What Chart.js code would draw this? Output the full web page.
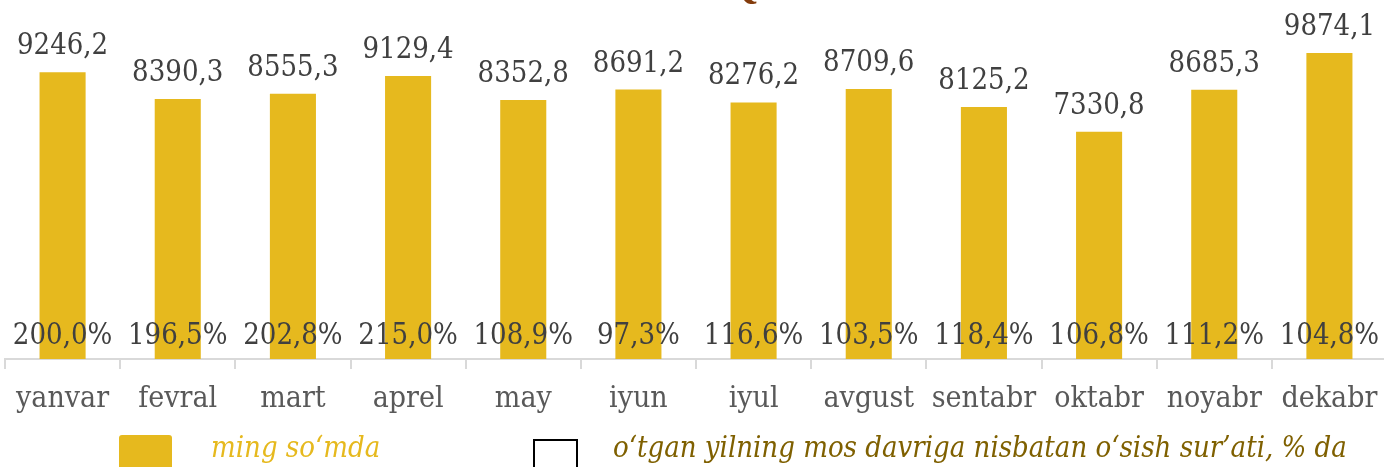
<!DOCTYPE html>
<html>
<head>
<meta charset="utf-8">
<script src="https://cdn.jsdelivr.net/npm/chart.js"></script>
<style>
  html, body { margin: 0; padding: 0; background: #fff; overflow: hidden; }
  #wrap { position: absolute; left: 0; top: -40px; width: 1392px; height: 507px; }
</style>
</head>
<body>
<div id="wrap"><canvas id="chart"></canvas></div>
<script>
const months = ['yanvar', 'fevral', 'mart', 'aprel', 'may', 'iyun', 'iyul', 'avgust', 'sentabr', 'oktabr', 'noyabr', 'dekabr'];
const values = [9246.2, 8390.3, 8555.3, 9129.4, 8352.8, 8691.2, 8276.2, 8709.6, 8125.2, 7330.8, 8685.3, 9874.1];
const growth = [200.0, 196.5, 202.8, 215.0, 108.9, 97.3, 116.6, 103.5, 118.4, 106.8, 111.2, 104.8];
const legendTexts = ['ming so‘mda', 'o‘tgan yilning mos davriga nisbatan o‘sish sur’ati, % da'];
const titleText = 'Q';

const OFFSET = 40; // canvas is shifted up by this much
const barColor = '#E6B91E';
const serif = '"DejaVu Serif Condensed", "Liberation Serif", serif';
const fmt = v => v.toFixed(1).replace('.', ',');

// value labels, growth labels, legend and the cut-off title
const labelsPlugin = {
  id: 'labels',
  afterDraw(chart) {
    const ctx = chart.ctx;
    const xs = chart.scales.x;
    const area = chart.chartArea;
    const bars = chart.getDatasetMeta(0).data;
    ctx.save();

    // title (only its bottom edge is visible)
    ctx.fillStyle = '#843C0C';
    ctx.font = 'bold 40px "Liberation Serif"';
    ctx.textAlign = 'left';
    ctx.textBaseline = 'alphabetic';
    ctx.fillText(titleText, 727, OFFSET - 2);

    ctx.fillStyle = '#404040';
    ctx.font = '29px ' + serif;
    ctx.textAlign = 'center';
    bars.forEach((bar, i) => {
      ctx.fillText(fmt(values[i]), bar.x, bar.y - 18);
    });
    growth.forEach((g, i) => {
      ctx.fillText(fmt(g) + '%', xs.getPixelForValue(i), area.bottom - 15);
    });

    // legend
    ctx.textAlign = 'left';
    ctx.fillStyle = barColor;
    ctx.beginPath();
    ctx.roundRect(119, OFFSET + 435, 53, 40, 3);
    ctx.fill();
    ctx.font = 'italic 29px ' + serif;
    ctx.fillText(legendTexts[0], 211, OFFSET + 457);

    ctx.strokeStyle = '#000';
    ctx.lineWidth = 2;
    ctx.strokeRect(534, OFFSET + 440, 43, 40);
    ctx.fillStyle = '#7F6000';
    ctx.fillText(legendTexts[1], 613, OFFSET + 457);
    ctx.restore();
  }
};

new Chart(document.getElementById('chart'), {
  type: 'bar',
  data: {
    labels: months,
    datasets: [{
      data: values,
      backgroundColor: barColor,
      borderWidth: 0,
      categoryPercentage: 1,
      barPercentage: 0.4
    }]
  },
  options: {
    responsive: true,
    maintainAspectRatio: false,
    animation: false,
    layout: { padding: { top: 27, left: 5, right: 5, bottom: 0 } },
    plugins: { legend: { display: false }, tooltip: { enabled: false } },
    scales: {
      y: { display: false, min: 0, max: 12000 },
      x: {
        afterFit(scale) { scale.height = 108; },
        border: { color: '#D9D9D9', width: 2 },
        grid: { drawOnChartArea: false, color: '#D9D9D9', lineWidth: 2, tickLength: 10, offset: true },
        ticks: { color: '#595959', font: { family: serif, size: 30 }, padding: 12, maxRotation: 0, autoSkip: false }
      }
    }
  },
  plugins: [labelsPlugin]
});
</script>
</body>
</html>
